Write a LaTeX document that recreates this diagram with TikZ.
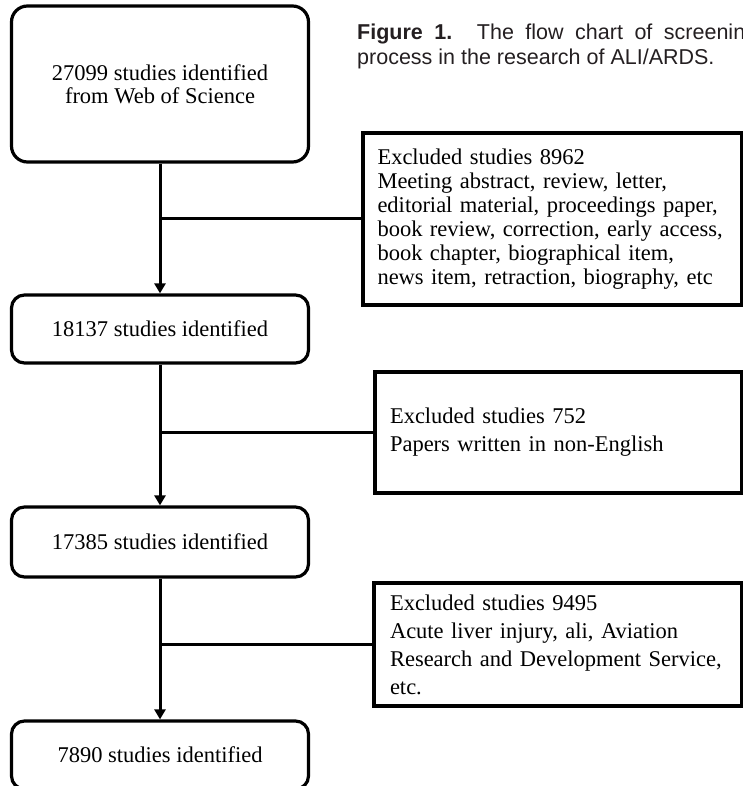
\documentclass[tikz,border=0pt]{standalone}
\usepackage{fontspec}
\setmainfont{Liberation Serif}
\newfontfamily\capfont{Liberation Sans}
\usepackage{xcolor}
\usepackage{tikz}
\usetikzlibrary{arrows.meta}
\definecolor{captioncolor}{rgb}{0.14,0.12,0.13}
\tikzset{captionnode/.style={anchor=base west,inner sep=0pt,text=captioncolor,font=\capfont\fontsize{21.5}{25}\selectfont}}
\tikzset{studynode/.style={draw,line width=3.2pt,rounded corners=13pt,minimum width=297pt,inner sep=0pt,align=center,font=\fontsize{22.5}{23}\selectfont}}
\tikzset{excludenode/.style={draw,line width=3.2pt,inner sep=0pt,align=left}}
\tikzset{flowline/.style={line width=3pt}}
\tikzset{flowarrow/.style={line width=3pt,-{Triangle[length=10pt,width=11pt]}}}
\newcommand{\justline}[2]{\makebox[#1][s]{#2}}

\begin{document}
\begin{tikzpicture}[x=1pt,y=-1pt]
		\useasboundingbox (0,0) rectangle (743,786);
		%
		\node[captionnode] (cap1) at (357,40) {\justline{400pt}{\textbf{Figure 1.} The flow chart of screening}};
		\node[captionnode] (cap2) at (357,65) {process in the research of ALI/ARDS.};
		%
		\node[studynode,rounded corners=16pt,minimum height=156pt] (s1) at (160,84) {27099 studies identified\\from Web of Science};
		\node[studynode,minimum height=68pt] (s2) at (160,329) {18137 studies identified};
		\node[studynode,minimum height=70pt] (s3) at (160,542) {17385 studies identified};
		\node[studynode,minimum height=68pt] (s4) at (160,755) {7890 studies identified};
		%
		\node[excludenode,minimum width=379pt,minimum height=172pt,text width=350pt,font=\fontsize{22.5}{24}\selectfont] (x1) at (552.5,219) {Excluded studies 8962\\
			Meeting abstract, review, letter,\\
			\justline{350pt}{editorial material, proceedings paper,}\\
			\justline{350pt}{book review, correction, early access,}\\
			book chapter, biographical item,\\
			news item, retraction, biography, etc};
		\node[excludenode,minimum width=367pt,minimum height=121pt,text width=337pt,font=\fontsize{22.5}{28}\selectfont] (x2) at (558.5,432.5) {Excluded studies 752\\
			Papers written in non-English};
		\node[excludenode,minimum width=368pt,minimum height=123pt,text width=336pt,font=\fontsize{22.5}{28}\selectfont] (x3) at (558,644.5) {Excluded studies 9495\\
			\justline{327pt}{Acute liver injury, ali, Aviation}\\
			\justline{327pt}{Research and Development Service,}\\
			etc.};
		%
		\draw[flowarrow] (s1) -- (s2);
		\draw[flowarrow] (s2) -- (s3);
		\draw[flowarrow] (s3) -- (s4);
		%
		\draw[flowline] (s1.south |- x1.west) -- (x1.west);
		\draw[flowline] (s2.south |- x2.west) -- (x2.west);
		\draw[flowline] (s3.south |- x3.west) -- (x3.west);
	\end{tikzpicture}
\end{document}
